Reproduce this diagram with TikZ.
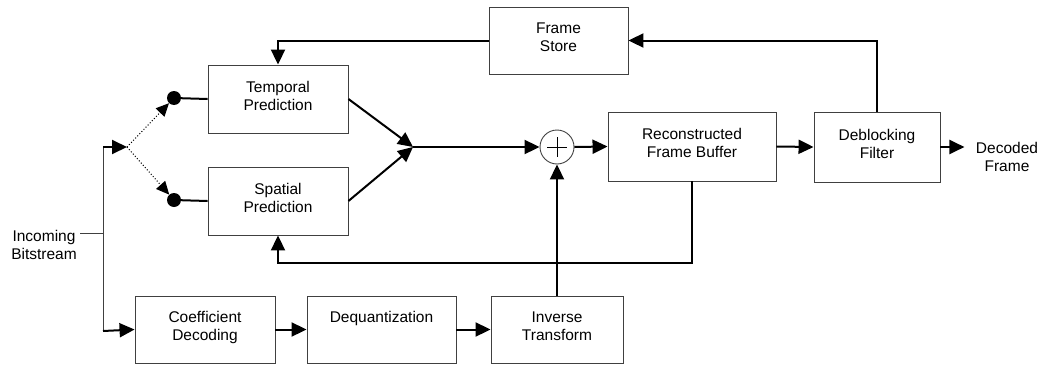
\documentclass[tikz,border=0pt]{standalone}
\usepackage{fontspec}
\setmainfont{Liberation Sans}
\usetikzlibrary{arrows.meta}
\begin{document}
\begin{tikzpicture}[x=1pt, y=-1pt,
    every node/.style={font=\fontsize{15.5}{18}\selectfont, align=center},
    block/.style={rectangle, draw=black!75, line width=0.9pt, fill=white, inner sep=0pt, text depth=7pt},
    flow/.style={line width=2pt, -{Triangle[length=15pt,width=14pt]}},
    wire/.style={line width=2pt},
    thinwire/.style={line width=1pt, draw=black!75}]
    \useasboundingbox (0,0) rectangle (1045,367);

    % Prediction blocks
    \node[block, minimum width=140, minimum height=68] (temporal) at (278,99) {Temporal\\Prediction};
    \node[block, minimum width=140, minimum height=68] (spatial) at (278,201) {Spatial\\Prediction};
    \node[block, minimum width=139, minimum height=67] (store) at (558.5,40.5) {Frame\\Store};

    % Reconstruction path
    \node[circle, draw=black!75, line width=0.9pt, minimum size=34, inner sep=0pt] (sum) at (557,147) {};
    \draw[line width=0.8pt] (sum.center) ++(-10,0) -- ++(20,0) (sum.center) ++(0,-10) -- ++(0,20);
    \node[block, minimum width=168, minimum height=69] (recon) at (692,146.5) {Reconstructed\\Frame Buffer};
    \node[block, minimum width=126, minimum height=70] (deblock) at (877,147) {Deblocking\\Filter};
    \node (decoded) at (1007,157) {Decoded\\Frame};

    % Residual path
    \node[block, minimum width=140, minimum height=67] (coeff) at (205,329.5) {Coefficient\\Decoding};
    \node[block, minimum width=149, minimum height=67] (dequant) at (381.5,329.5) {Dequantization\\\mbox{}};
    \node[block, minimum width=132, minimum height=67] (inverse) at (557,329.5) {Inverse\\Transform};

    % Input and switch
    \node (input) at (44,245) {Incoming\\Bitstream};
    \coordinate (tap) at (103,233);
    \coordinate (bustop) at (103,147);
    \coordinate (busbot) at (103,331);
    \coordinate (switch) at (127,147);
    \coordinate (join) at (413,147);
    \coordinate (fbline) at (0,263);
    \node[circle, fill=black, minimum size=14, inner sep=0pt] (tdot) at (174,98) {};
    \node[circle, fill=black, minimum size=14, inner sep=0pt] (sdot) at (174,200) {};

    \draw[thinwire] (input.east |- tap) -- (tap);
    \draw[thinwire] (bustop) -- (busbot);
    \draw[flow] (bustop) -- (switch);
    \draw[flow] (busbot) -- (coeff.west);
    \draw[line width=1pt, dotted, -{Triangle[length=13pt,width=12pt]}] (switch) -- (tdot);
    \draw[line width=1pt, dotted, -{Triangle[length=13pt,width=12pt]}] (switch) -- (sdot);
    \draw[wire] (tdot) -- (temporal.west);
    \draw[wire] (sdot) -- (spatial.west);

    % Main connectors
    \draw[flow] (temporal.east) -- (join);
    \draw[flow] (spatial.east) -- (join);
    \draw[flow] (join) -- (sum.west);
    \draw[flow] (sum.east) -- (recon.west);
    \draw[flow] (recon.east) -- (deblock.west);
    \draw[flow, shorten >=8pt] (deblock.east) -- (decoded.west |- deblock.east);
    \draw[flow] (coeff.east) -- (dequant.west);
    \draw[flow] (dequant.east) -- (inverse.west);
    \draw[flow] (inverse.north) -- (sum.south);

    % Feedback loops
    \draw[flow] (deblock.north) |- (store.east);
    \draw[flow] (store.west) -| (temporal.north);
    \draw[flow] (recon.south) -- (recon.south |- fbline) -| (spatial.south);
\end{tikzpicture}
\end{document}
